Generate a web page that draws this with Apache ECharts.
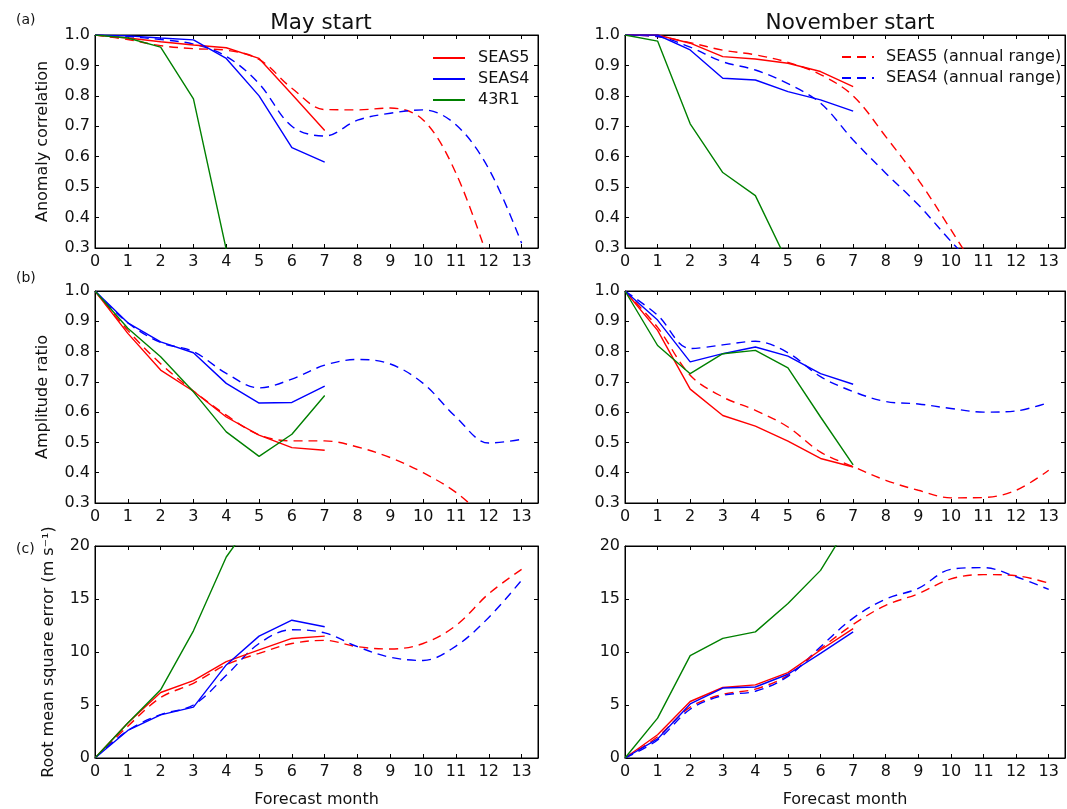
<!DOCTYPE html>
<html>
<head>
<meta charset="utf-8">
<script src="https://cdn.jsdelivr.net/npm/echarts@6/dist/echarts.min.js"></script>
<style>
html,body{margin:0;padding:0;background:#fff;}
#chart{width:1067px;height:809px;}
</style>
</head>
<body>
<div id="chart"></div>
<script>
// Forecast month (x) values
const months = [0,1,2,3,4,5,6,7,8,9,10,11,12,13];
const xTickLabels = ['0','1','2','3','4','5','6','7','8','9','10','11','12','13'];

// (a) Anomaly correlation, May start
const acMaySEAS5    = [1.0,0.99,0.978,0.967,0.958,0.923,0.805,0.686];
const acMaySEAS4    = [1.0,0.997,0.99,0.984,0.923,0.80,0.63,0.582];
const acMay43R1     = [1.0,0.99,0.96,0.79,0.295];
const acMaySEAS5ann = [1.0,0.985,0.965,0.955,0.95,0.92,0.825,0.755,0.754,0.76,0.721,0.546,0.257];
const acMaySEAS4ann = [1.0,0.995,0.985,0.97,0.93,0.84,0.70,0.668,0.72,0.743,0.754,0.705,0.56,0.316];
// (a) Anomaly correlation, November start
const acNovSEAS5    = [1.0,1.0,0.973,0.929,0.921,0.907,0.88,0.83];
const acNovSEAS4    = [1.0,1.0,0.951,0.858,0.852,0.814,0.787,0.75];
const acNov43R1     = [1.0,0.98,0.708,0.548,0.472,0.25];
const acNovSEAS5ann = [1.0,0.995,0.975,0.95,0.935,0.91,0.87,0.80,0.666,0.524,0.36,0.19];
const acNovSEAS4ann = [1.0,0.995,0.96,0.912,0.885,0.84,0.776,0.655,0.546,0.442,0.322,0.21];

// (b) Amplitude ratio, May start
const arMaySEAS5    = [1.0,0.86,0.739,0.669,0.584,0.524,0.483,0.474];
const arMaySEAS4    = [1.0,0.895,0.832,0.796,0.695,0.63,0.632,0.686];
const arMay43R1     = [1.0,0.877,0.783,0.667,0.535,0.454,0.527,0.655];
const arMaySEAS5ann = [1.0,0.87,0.76,0.67,0.59,0.525,0.505,0.505,0.485,0.45,0.40,0.335,0.24];
const arMaySEAS4ann = [1.0,0.895,0.83,0.80,0.728,0.68,0.709,0.755,0.774,0.759,0.695,0.584,0.498,0.51];
// (b) Amplitude ratio, November start
const arNovSEAS5    = [1.0,0.87,0.676,0.589,0.554,0.504,0.447,0.419];
const arNovSEAS4    = [1.0,0.904,0.766,0.793,0.815,0.785,0.727,0.692];
const arNov43R1     = [1.0,0.82,0.727,0.793,0.804,0.746,0.584,0.426];
const arNovSEAS5ann = [1.0,0.88,0.722,0.65,0.606,0.551,0.468,0.42,0.375,0.342,0.317,0.318,0.342,0.408];
const arNovSEAS4ann = [1.0,0.92,0.81,0.822,0.834,0.796,0.717,0.668,0.635,0.627,0.612,0.60,0.604,0.632];

// (c) Root mean square error, May start
const rmseMaySEAS5    = [0,3.3,6.18,7.3,9.09,10.2,11.28,11.5];
const rmseMaySEAS4    = [0,2.6,4.07,4.8,8.78,11.5,13.0,12.38];
const rmseMay43R1     = [0,3.3,6.43,12.0,18.96,23.3];
const rmseMaySEAS5ann = [0,3.0,5.7,7.05,8.8,9.87,10.8,11.1,10.5,10.28,10.8,12.5,15.5,17.8];
const rmseMaySEAS4ann = [0,2.6,4.1,5.0,7.8,10.8,12.1,11.8,10.5,9.5,9.2,10.56,13.26,16.77];
// (c) Root mean square error, November start
const rmseNovSEAS5    = [0,2.19,5.33,6.65,6.9,8.06,10.19,12.2];
const rmseNovSEAS4    = [0,1.8,5.1,6.6,6.7,7.9,9.87,11.9];
const rmseNov43R1     = [0,3.76,9.66,11.28,11.9,14.58,17.7,22.7];
const rmseNovSEAS5ann = [0,2.0,4.8,6.0,6.5,7.8,10.3,12.6,14.4,15.5,16.9,17.3,17.2,16.5];
const rmseNovSEAS4ann = [0,1.7,4.6,5.9,6.3,7.7,10.5,13.2,15.0,16.0,17.8,17.96,17.1,15.9];

const panels = [
  {sets:[acMaySEAS5,acMaySEAS4,acMay43R1,acMaySEAS5ann,acMaySEAS4ann], ymin:0.3, ymax:1.0, step:0.1, name:'Anomaly correlation'},
  {sets:[acNovSEAS5,acNovSEAS4,acNov43R1,acNovSEAS5ann,acNovSEAS4ann], ymin:0.3, ymax:1.0, step:0.1, name:''},
  {sets:[arMaySEAS5,arMaySEAS4,arMay43R1,arMaySEAS5ann,arMaySEAS4ann], ymin:0.3, ymax:1.0, step:0.1, name:'Amplitude ratio'},
  {sets:[arNovSEAS5,arNovSEAS4,arNov43R1,arNovSEAS5ann,arNovSEAS4ann], ymin:0.3, ymax:1.0, step:0.1, name:''},
  {sets:[rmseMaySEAS5,rmseMaySEAS4,rmseMay43R1,rmseMaySEAS5ann,rmseMaySEAS4ann], ymin:0, ymax:20, step:5, name:'Root mean square error (m s\u207B\u00B9)'},
  {sets:[rmseNovSEAS5,rmseNovSEAS4,rmseNov43R1,rmseNovSEAS5ann,rmseNovSEAS4ann], ymin:0, ymax:20, step:5, name:''}
];
const seriesNames = ['SEAS5','SEAS4','43R1','SEAS5 (annual range)','SEAS4 (annual range)'];
const seriesColors = ['#ff0000','#0000ff','#008000','#ff0000','#0000ff'];
const seriesDashed = [false,false,false,true,true];

const FONT = 'DejaVu Sans';
const gridPos = [
  {left:95, top:35, width:443, height:213},
  {left:625, top:35, width:440, height:213},
  {left:95, top:291, width:443, height:212},
  {left:625, top:291, width:440, height:212},
  {left:95, top:546, width:443, height:213},
  {left:625, top:546, width:440, height:213}
];

const grid = [], xAxis = [], yAxis = [], series = [];
panels.forEach((p, gi) => {
  grid.push(Object.assign({show:true, borderColor:'#000', borderWidth:1, backgroundColor:'#fff'}, gridPos[gi]));
  const isBottom = gi >= 4;
  const common = {
    type:'value', gridIndex:gi, min:0, max:13.5, interval:1,
    axisLine:{show:true, onZero:false, lineStyle:{color:'#000', width:1}},
    axisTick:{show:true, inside:true, length:4, lineStyle:{color:'#000'}},
    splitLine:{show:false}
  };
  xAxis.push(Object.assign({}, common, {
    position:'bottom',
    axisLabel:{show:true, margin:6, fontSize:16, fontFamily:FONT, color:'#111', showMaxLabel:false,
      formatter:v => (Number.isInteger(v) && v <= 13) ? xTickLabels[v] : ''},
    name: isBottom ? 'Forecast month' : '',
    nameLocation:'middle', nameGap:34,
    nameTextStyle:{fontSize:16, fontFamily:FONT, color:'#111'}
  }));
  xAxis.push(Object.assign({}, common, {position:'top', axisLabel:{show:false}}));
  const ycommon = {
    type:'value', gridIndex:gi, min:p.ymin, max:p.ymax, interval:p.step,
    axisLine:{show:true, onZero:false, lineStyle:{color:'#000', width:1}},
    axisTick:{show:true, inside:true, length:4, lineStyle:{color:'#000'}},
    splitLine:{show:false}
  };
  yAxis.push(Object.assign({}, ycommon, {
    position:'left',
    axisLabel:{show:true, margin:5, fontSize:16, fontFamily:FONT, color:'#111',
      formatter:v => p.step < 1 ? v.toFixed(1) : String(Math.round(v))},
    name:p.name, nameLocation:'middle', nameGap: p.step < 1 ? 44 : 38,
    nameTextStyle:{fontSize:16, fontFamily:FONT, color:'#111'}
  }));
  yAxis.push(Object.assign({}, ycommon, {position:'right', axisLabel:{show:false}}));
  p.sets.forEach((vals, si) => {
    series.push({
      type:'line', name:seriesNames[si],
      xAxisIndex:gi*2, yAxisIndex:gi*2,
      data: vals.map((v, i) => [months[i], v]),
      showSymbol:false, symbol:'none', clip:true,
      smooth: seriesDashed[si] ? 0.35 : false,
      lineStyle:{color:seriesColors[si], width:1.4, type: seriesDashed[si] ? [9,6] : 'solid'},
      itemStyle:{color:seriesColors[si]},
      emphasis:{disabled:true},
      animation:false,
      z: seriesDashed[si] ? 2 : 3
    });
  });
});

const legendText = {fontSize:16, fontFamily:FONT, color:'#111', padding:[0,0,0,8]};
const option = {
  backgroundColor:'#fff',
  animation:false,
  title:[
    {text:'May start', left:316, top:7, textAlign:'center', textStyle:{fontSize:21.5, fontWeight:'normal', fontFamily:FONT, color:'#111'}},
    {text:'November start', left:845, top:7, textAlign:'center', textStyle:{fontSize:21.5, fontWeight:'normal', fontFamily:FONT, color:'#111'}},
    {text:'(a)', left:11, top:8, textStyle:{fontSize:14, fontWeight:'normal', fontFamily:FONT, color:'#111'}},
    {text:'(b)', left:11, top:266, textStyle:{fontSize:14, fontWeight:'normal', fontFamily:FONT, color:'#111'}},
    {text:'(c)', left:11, top:537, textStyle:{fontSize:14, fontWeight:'normal', fontFamily:FONT, color:'#111'}}
  ],
  legend:[
    {data:['SEAS5','SEAS4','43R1'], orient:'vertical', left:427, top:45, itemWidth:32, itemHeight:14, itemGap:5,
     itemStyle:{opacity:0}, textStyle:legendText, selectedMode:false},
    {data:['SEAS5 (annual range)','SEAS4 (annual range)'], orient:'vertical', left:836, top:44, itemWidth:32, itemHeight:14, itemGap:5,
     itemStyle:{opacity:0}, textStyle:Object.assign({}, legendText, {padding:[0,0,0,7]}), selectedMode:false}
  ],
  grid, xAxis, yAxis, series
};

const chart = echarts.init(document.getElementById('chart'), null, {renderer:'canvas'});
chart.setOption(option);
</script>
</body>
</html>
